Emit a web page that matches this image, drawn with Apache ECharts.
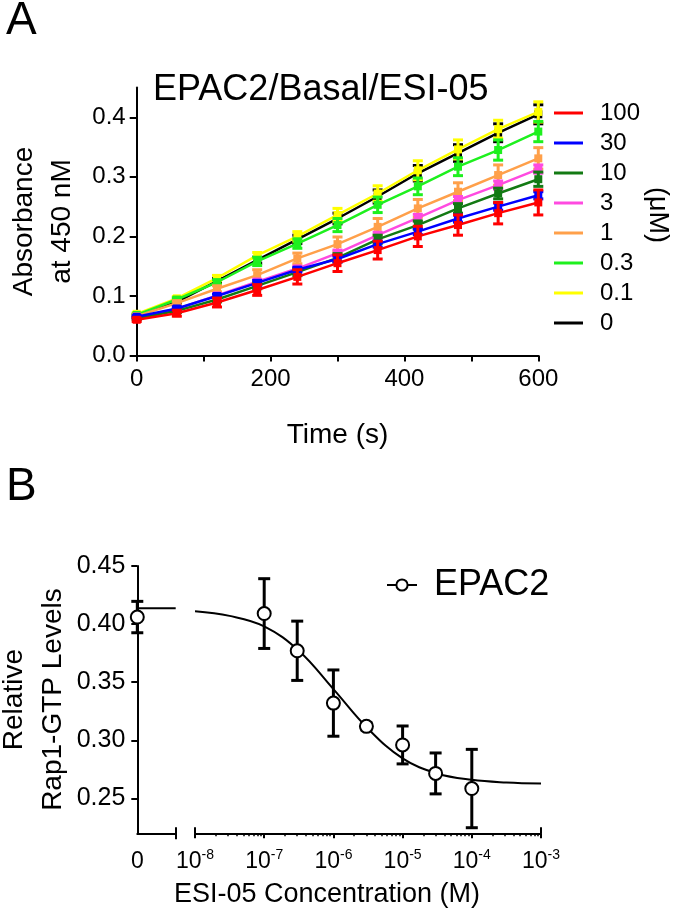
<!DOCTYPE html>
<html><head><meta charset="utf-8">
<script src="https://cdn.jsdelivr.net/npm/echarts@6/dist/echarts.min.js"></script>
<style>html,body{margin:0;padding:0;background:#fff}#c{width:675px;height:916px}</style>
</head><body><div id="c"></div>
<script>
// ---------- Panel A data ----------
const timeS = [0, 60, 120, 180, 240, 300, 360, 420, 480, 540, 600];
const concNames = ['100', '30', '10', '3', '1', '0.3', '0.1', '0'];
const concColors = ['#ff0000', '#0000ff', '#137a13', '#ff4ae0', '#ffa04a', '#1ef01e', '#ffff00', '#000000'];
const abs100 = [0.060, 0.071, 0.089, 0.110, 0.132, 0.155, 0.177, 0.200, 0.219, 0.239, 0.257];
const abs30  = [0.065, 0.079, 0.100, 0.122, 0.144, 0.162, 0.187, 0.208, 0.230, 0.250, 0.269];
const abs10  = [0.062, 0.075, 0.094, 0.117, 0.140, 0.164, 0.195, 0.219, 0.247, 0.272, 0.296];
const abs3   = [0.064, 0.078, 0.101, 0.124, 0.146, 0.172, 0.202, 0.231, 0.261, 0.286, 0.313];
const abs1   = [0.066, 0.088, 0.112, 0.135, 0.163, 0.187, 0.216, 0.247, 0.275, 0.303, 0.331];
const abs03  = [0.068, 0.094, 0.123, 0.158, 0.188, 0.219, 0.253, 0.284, 0.317, 0.345, 0.376];
const abs01  = [0.070, 0.096, 0.130, 0.168, 0.200, 0.236, 0.272, 0.311, 0.346, 0.380, 0.409];
const abs0   = [0.067, 0.090, 0.125, 0.160, 0.195, 0.230, 0.267, 0.306, 0.340, 0.374, 0.405];
const err100 = [0.003, 0.005, 0.0075, 0.009, 0.012, 0.014, 0.015, 0.017, 0.017, 0.018, 0.021];
const err30  = [0.002, 0.003, 0.003, 0.004, 0.004, 0.005, 0.005, 0.005, 0.006, 0.006, 0.006];
const err10  = [0.002, 0.003, 0.004, 0.005, 0.006, 0.007, 0.007, 0.007, 0.008, 0.009, 0.012];
const err3   = [0.002, 0.003, 0.003, 0.004, 0.004, 0.005, 0.005, 0.006, 0.006, 0.007, 0.007];
const err1   = [0.002, 0.003, 0.005, 0.009, 0.009, 0.012, 0.014, 0.015, 0.015, 0.017, 0.018];
const err03  = [0.002, 0.003, 0.004, 0.007, 0.008, 0.011, 0.013, 0.014, 0.015, 0.017, 0.017];
const err01  = [0.002, 0.003, 0.0045, 0.005, 0.008, 0.011, 0.013, 0.016, 0.016, 0.015, 0.017];
const err0   = [0.002, 0.003, 0.004, 0.005, 0.007, 0.009, 0.011, 0.013, 0.014, 0.015, 0.016];
const absAll = [abs100, abs30, abs10, abs3, abs1, abs03, abs01, abs0];
const errAll = [err100, err30, err10, err3, err1, err03, err01, err0];
const xTicksA = [0, 200, 400, 600];
const yTicksA = [0, 0.1, 0.2, 0.3, 0.4];

// ---------- Panel B data ----------
const concB = [1e-7, 3e-7, 1e-6, 3e-6, 1e-5, 3e-5, 1e-4];
const meanB = [0.409, 0.377, 0.332, 0.312, 0.296, 0.2715, 0.2585];
const semB  = [0.030, 0.0255, 0.0285, 0.003, 0.0163, 0.0176, 0.0337];
const zeroMean = [0.406];
const zeroSem = [0.0135];
const fitTop = 0.4135;
const curveLogX = [-8, -7.5, -7, -6.5, -6, -5.5, -5, -4.5, -4, -3.5, -3];
const curveY    = [0.411, 0.407, 0.398, 0.377, 0.344, 0.310, 0.2845, 0.2715, 0.266, 0.2637, 0.2628];
const yTicksB = [0.25, 0.30, 0.35, 0.40, 0.45];
const xDecadesB = [-8, -7, -6, -5, -4, -3];

const FF = '"Liberation Sans", Arial, Helvetica, sans-serif';
const minorB = [];
for (let d = -8; d < -3; d++) for (let k = 2; k <= 9; k++) minorB.push(d + Math.log10(k));

function errRender(capHalf, lw, color) {
  return function (params, api) {
    const x = api.value(0), y = api.value(1), e = api.value(2);
    const lo = api.coord([x, y - e]), hi = api.coord([x, y + e]);
    const st = { stroke: color, lineWidth: lw };
    return { type: 'group', children: [
      { type: 'line', shape: { x1: lo[0], y1: lo[1], x2: hi[0], y2: hi[1] }, style: st },
      { type: 'line', shape: { x1: hi[0] - capHalf, y1: hi[1], x2: hi[0] + capHalf, y2: hi[1] }, style: st },
      { type: 'line', shape: { x1: lo[0] - capHalf, y1: lo[1], x2: lo[0] + capHalf, y2: lo[1] }, style: st }
    ]};
  };
}

const axLine = { show: true, lineStyle: { color: '#000', width: 2 } };
const series = [];
// draw black first (bottom), red last (top)
for (let i = concNames.length - 1; i >= 0; i--) {
  const z = 2 + (concNames.length - i) * 0.1;
  series.push({
    type: 'line', name: concNames[i], xAxisIndex: 0, yAxisIndex: 0, z: z,
    data: timeS.map((t, j) => [t, absAll[i][j]]),
    symbol: 'rect', symbolSize: 8, showSymbol: true,
    lineStyle: { color: concColors[i], width: 2.5 },
    itemStyle: { color: concColors[i] }
  });
  series.push({
    type: 'custom', name: concNames[i], xAxisIndex: 0, yAxisIndex: 0, z: z,
    itemStyle: { color: concColors[i] },
    data: timeS.map((t, j) => [t, absAll[i][j], errAll[i][j]]),
    encode: { x: 0, y: 1 }, renderItem: errRender(5, 3, concColors[i])
  });
}
// Panel B
series.push({
  type: 'line', name: 'fit0', xAxisIndex: 1, yAxisIndex: 1, data: [[0, fitTop], [1, fitTop]],
  symbol: 'none', lineStyle: { color: '#000', width: 2 }, z: 2
});
series.push({
  type: 'custom', name: 'zeroErr', xAxisIndex: 1, yAxisIndex: 1, z: 3,
  data: [[0, zeroMean[0], zeroSem[0]]], encode: { x: 0, y: 1 }, renderItem: errRender(6, 3, '#000')
});
series.push({
  type: 'line', name: 'zero', xAxisIndex: 1, yAxisIndex: 1, z: 4, data: [[0, zeroMean[0]]],
  symbol: 'circle', symbolSize: 13, lineStyle: { width: 0 },
  itemStyle: { color: '#fff', borderColor: '#000', borderWidth: 2 }, clip: false
});
series.push({
  type: 'line', name: 'fit', xAxisIndex: 3, yAxisIndex: 2, z: 2,
  data: curveLogX.map((x, j) => [x, curveY[j]]), smooth: 0.4, symbol: 'none',
  lineStyle: { color: '#000', width: 2 }
});
series.push({
  type: 'custom', name: 'EPAC2err', xAxisIndex: 3, yAxisIndex: 2, z: 3,
  data: concB.map((c, j) => [Math.log10(c), meanB[j], semB[j]]), encode: { x: 0, y: 1 },
  renderItem: errRender(6, 3, '#000')
});
series.push({
  type: 'line', name: 'EPAC2', xAxisIndex: 3, yAxisIndex: 2, z: 4,
  data: concB.map((c, j) => [Math.log10(c), meanB[j]]),
  symbol: 'circle', symbolSize: 13, lineStyle: { width: 0, color: '#000' },
  itemStyle: { color: '#fff', borderColor: '#000', borderWidth: 2 }
});

const tStyle = (fs) => ({ fontSize: fs, fontWeight: 'normal', fontFamily: FF, color: '#000' });
const option = {
  animation: false,
  textStyle: { fontFamily: FF, color: '#000' },
  title: [
    { text: 'A', left: 6, top: -2, padding: 0, textStyle: tStyle(46) },
    { text: 'B', left: 6, top: 464, padding: 0, textStyle: tStyle(46) },
    { text: 'EPAC2/Basal/ESI-05', left: 153, top: 72, padding: 0, textStyle: tStyle(36) },
    { text: 'ESI-05 Concentration (M)', left: 327, textAlign: 'center', top: 881, padding: 0, textStyle: tStyle(27) }
  ],
  graphic: [
    { type: 'text', x: 657, y: 215, rotation: -Math.PI / 2,
      style: { text: '(μM)', fontSize: 27, fontFamily: FF, fill: '#000', align: 'center', verticalAlign: 'middle' } }
  ],
  legend: [
    { data: concNames, orient: 'vertical', left: 554, top: 98, itemWidth: 29, itemHeight: 3, itemGap: 0,
      icon: 'rect', padding: 0, textStyle: { fontSize: 24, lineHeight: 30, fontFamily: FF, color: '#000', padding: [0, 0, 0, 12] } },
    { data: [{ name: 'EPAC2', lineStyle: { width: 2, color: '#000', opacity: 1 } }], left: 386, top: 567,
      itemWidth: 30, itemHeight: 14, padding: 0, textStyle: { fontSize: 36, fontFamily: FF, color: '#000', padding: [0, 0, 0, 12] } }
  ],
  grid: [
    { left: 136.7, top: 87.5, width: 401.6, height: 268, outerBoundsMode: 'none', containLabel: false },
    { left: 137.3, top: 565.9, width: 38.4, height: 267.4, outerBoundsMode: 'none', containLabel: false },
    { left: 195, top: 565.9, width: 346, height: 267.4, outerBoundsMode: 'none', containLabel: false }
  ],
  xAxis: [
    { gridIndex: 0, type: 'value', min: 0, max: 600, interval: 100, axisLine: axLine,
      axisTick: { length: 6, lineStyle: { width: 2, color: '#000' } },
      axisLabel: { customValues: xTicksA, fontSize: 24, margin: 12, color: '#000', fontFamily: FF },
      splitLine: { show: false },
      name: 'Time (s)', nameLocation: 'middle', nameGap: 66, nameTextStyle: { fontSize: 28, fontFamily: FF, color: '#000' } },
    { gridIndex: 1, type: 'value', min: 0, max: 1, position: 'bottom', axisLine: axLine,
      axisTick: { customValues: [1], length: 6, lineStyle: { width: 2, color: '#000' } },
      axisLabel: { customValues: [0], formatter: () => '{b|0}', margin: 15, rich: { b: { fontSize: 23, lineHeight: 26, fontFamily: FF, color: '#000' } } },
      splitLine: { show: false } },
    { gridIndex: 1, type: 'value', min: 0, max: 1, position: 'bottom', axisLine: { show: false },
      axisTick: { customValues: [1], inside: true, length: 6, lineStyle: { width: 2, color: '#000' } },
      axisLabel: { show: false }, splitLine: { show: false } },
    { gridIndex: 2, type: 'value', min: -8, max: -3, interval: 1, position: 'bottom', axisLine: axLine,
      axisTick: { customValues: xDecadesB, length: 5, lineStyle: { width: 2, color: '#000' } },
      axisLabel: { customValues: xDecadesB, margin: 15, formatter: v => '{b|10}{s|' + v + '}',
        rich: { b: { fontSize: 23, lineHeight: 26, fontFamily: FF, color: '#000' }, s: { fontSize: 14, lineHeight: 14, padding: [0, 0, 12, 0], fontFamily: FF, color: '#000' } } },
      splitLine: { show: false } },
    { gridIndex: 2, type: 'value', min: -8, max: -3, position: 'bottom', axisLine: { show: false },
      axisTick: { customValues: minorB, length: 3, lineStyle: { width: 1.5, color: '#000' } },
      axisLabel: { show: false }, splitLine: { show: false } },
    { gridIndex: 2, type: 'value', min: -8, max: -3, position: 'bottom', axisLine: { show: false },
      axisTick: { customValues: [-8, -3], inside: true, length: 6, lineStyle: { width: 2, color: '#000' } },
      axisLabel: { show: false }, splitLine: { show: false } }
  ],
  yAxis: [
    { gridIndex: 0, type: 'value', min: 0, max: 0.45, axisLine: axLine,
      axisTick: { customValues: yTicksA, length: 7, lineStyle: { width: 2, color: '#000' } },
      axisLabel: { customValues: yTicksA, formatter: v => v.toFixed(1), fontSize: 24, margin: 11, color: '#000', fontFamily: FF },
      splitLine: { show: false },
      name: 'Absorbance\nat 450 nM', nameLocation: 'middle', nameGap: 48, nameRotate: 90,
      nameTextStyle: { fontSize: 28, lineHeight: 38, fontFamily: FF, color: '#000' } },
    { gridIndex: 1, type: 'value', min: 0.22, max: 0.45, axisLine: axLine,
      axisTick: { customValues: yTicksB, length: 6, lineStyle: { width: 2, color: '#000' } },
      axisLabel: { customValues: yTicksB, formatter: v => v.toFixed(2), fontSize: 25, margin: 12, color: '#000', fontFamily: FF },
      splitLine: { show: false },
      name: 'Relative\nRap1-GTP Levels', nameLocation: 'middle', nameGap: 65, nameRotate: 90,
      nameTextStyle: { fontSize: 28, lineHeight: 39, fontFamily: FF, color: '#000' } },
    { gridIndex: 2, type: 'value', min: 0.22, max: 0.45, show: false, splitLine: { show: false } }
  ],
  series: series
};
const chart = echarts.init(document.getElementById('c'), null, { renderer: 'canvas' });
chart.setOption(option);
</script></body></html>
